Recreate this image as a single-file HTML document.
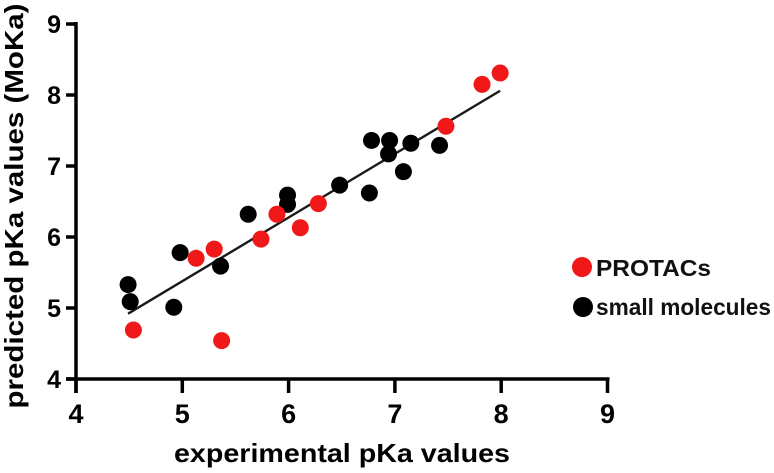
<!DOCTYPE html>
<html><head><meta charset="utf-8"><style>
body{margin:0;background:#fff;}
svg{display:block;font-family:"Liberation Sans",Arial,sans-serif;}
</style></head><body>
<svg id="chart" width="774" height="473"></svg>
<script>
const xTicks=[4,5,6,7,8,9];
const yTicks=[4,5,6,7,8,9];
const protacX=[4.54,5.37,5.13,5.30,5.74,5.89,6.11,6.28,7.48,7.82,7.99];
const protacY=[4.69,4.54,5.70,5.83,5.97,6.32,6.13,6.47,7.56,8.15,8.31];
const smallX=[4.49,4.51,4.92,4.98,5.36,5.62,5.99,5.99,6.48,6.76,6.78,6.95,6.94,7.15,7.08,7.42];
const smallY=[5.33,5.09,5.01,5.78,5.59,6.32,6.59,6.46,6.73,6.62,7.36,7.36,7.17,7.32,6.92,7.29];
const fitX=[4.49,7.99];
const fitY=[4.92,8.06];
const svg=document.getElementById('chart');
const NS='http://www.w3.org/2000/svg';
const sx=v=>76+(v-4)*106.3;
const sy=v=>379-(v-4)*71;
function mk(tag,attrs,parent){const e=document.createElementNS(NS,tag);for(const k in attrs)e.setAttribute(k,attrs[k]);(parent||svg).appendChild(e);return e;}
let a=mk('line',{x1:sx(4)-10,y1:sy(4),x2:sx(9)+2,y2:sy(4),stroke:'#000','stroke-width':3.5});


a=mk('line',{x1:sx(4),y1:sy(4)+14,x2:sx(4),y2:sy(9)-2,stroke:'#000','stroke-width':3.5});


xTicks.forEach(t=>{
 const l=mk('line',{x1:sx(t),y1:sy(4),x2:sx(t),y2:sy(4)+14,stroke:'#000','stroke-width':3.5});
 
 
 const tx=mk('text',{x:sx(t),y:423,'text-anchor':'middle','font-size':27,'font-weight':'bold'});
 tx.textContent=t;
 
 
});
yTicks.forEach(t=>{
 const l=mk('line',{x1:sx(4)-10,y1:sy(t),x2:sx(4),y2:sy(t),stroke:'#000','stroke-width':3.5});
 
 
 const tx=mk('text',{x:61,y:sy(t)+9,'text-anchor':'end','font-size':25,'font-weight':'bold'});
 tx.textContent=t;
 
 
});
let t=mk('text',{x:342,y:462,'text-anchor':'middle','font-size':26,'font-weight':'bold',textLength:336,lengthAdjust:'spacingAndGlyphs'});
t.textContent='experimental pKa values';


t=mk('text',{x:0,y:0,'text-anchor':'middle','font-size':26,'font-weight':'bold',textLength:405,lengthAdjust:'spacingAndGlyphs',transform:'translate(23,206) rotate(-90)'});
t.textContent='predicted pKa values (MoKa)';


const fl=mk('line',{x1:sx(fitX[0]),y1:sy(fitY[0]),x2:sx(fitX[1]),y2:sy(fitY[1]),stroke:'#1a1a1a','stroke-width':2.4});


smallX.forEach((x,i)=>{
 const c=mk('circle',{cx:sx(x),cy:sy(smallY[i]),r:8.5,fill:'#000'});
 
 
});
protacX.forEach((x,i)=>{
 const c=mk('circle',{cx:sx(x),cy:sy(protacY[i]),r:8.5,fill:'#f01818'});
 
 
});
let c=mk('circle',{cx:582,cy:267,r:10,fill:'#f01818'});


t=mk('text',{x:596,y:276,'font-size':23,'font-weight':'bold',fill:'#111',textLength:115,lengthAdjust:'spacingAndGlyphs'});
t.textContent='PROTACs';


c=mk('circle',{cx:583,cy:307,r:10,fill:'#000'});


t=mk('text',{x:596,y:315,'font-size':23,'font-weight':'bold',fill:'#111',textLength:175,lengthAdjust:'spacingAndGlyphs'});
t.textContent='small molecules';


</script>
</body></html>
